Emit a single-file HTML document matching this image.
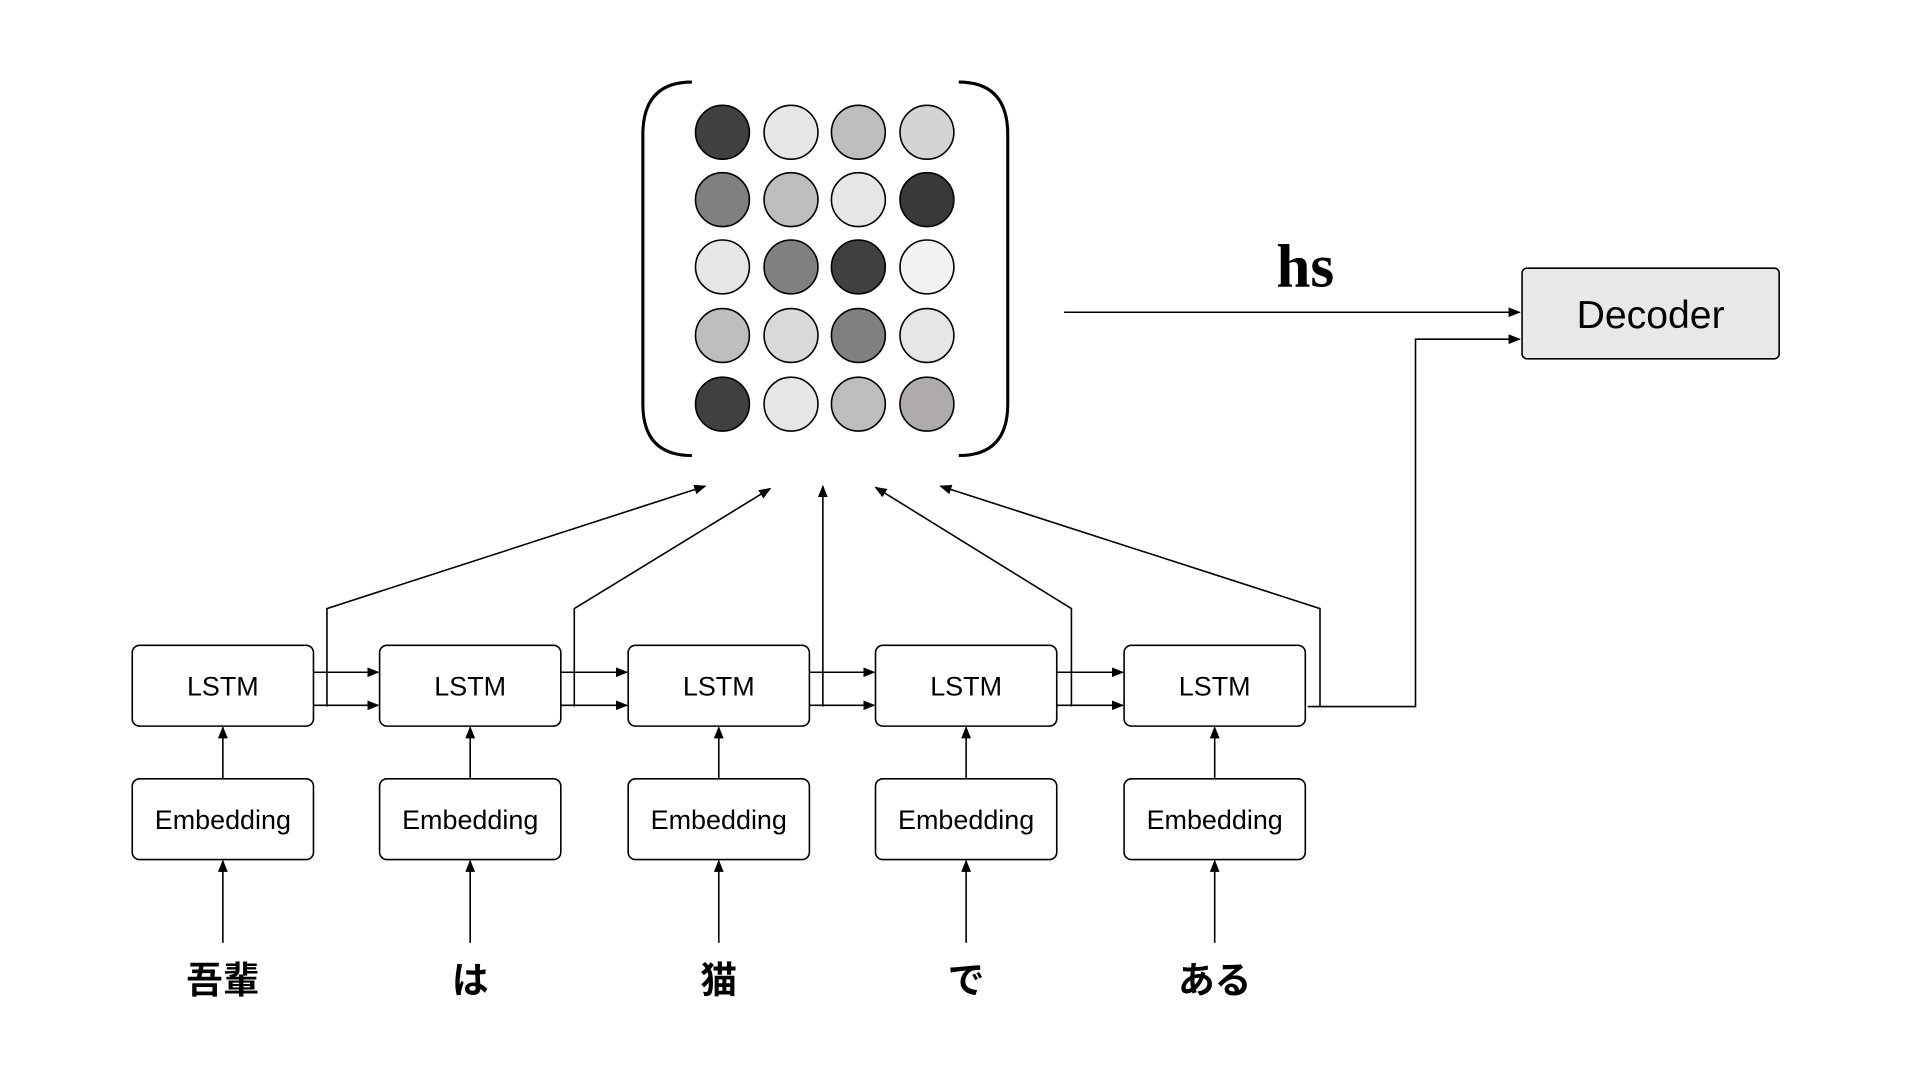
<!DOCTYPE html>
<html><head><meta charset="utf-8"><style>html,body{margin:0;padding:0;background:#fff}svg{display:block}</style></head>
<body>
<svg width="1920" height="1080" viewBox="0 0 1568 882" preserveAspectRatio="none" xmlns="http://www.w3.org/2000/svg">
<defs><marker id="a" markerWidth="10" markerHeight="8" refX="9" refY="4" orient="auto" markerUnits="userSpaceOnUse"><path d="M0,0 L10,4 L0,8 z" fill="#000"/></marker></defs>
<g stroke="#000" stroke-width="1.3">
<circle cx="590" cy="108" r="22" fill="#404040"/><circle cx="646" cy="108" r="22" fill="#e6e6e6"/><circle cx="701" cy="108" r="22" fill="#bdbdbd"/><circle cx="757" cy="108" r="22" fill="#d4d4d4"/>
<circle cx="590" cy="163" r="22" fill="#808080"/><circle cx="646" cy="163" r="22" fill="#bdbdbd"/><circle cx="701" cy="163" r="22" fill="#e6e6e6"/><circle cx="757" cy="163" r="22" fill="#3a3a3a"/>
<circle cx="590" cy="218" r="22" fill="#e6e6e6"/><circle cx="646" cy="218" r="22" fill="#808080"/><circle cx="701" cy="218" r="22" fill="#404040"/><circle cx="757" cy="218" r="22" fill="#f2f2f2"/>
<circle cx="590" cy="274" r="22" fill="#bdbdbd"/><circle cx="646" cy="274" r="22" fill="#d9d9d9"/><circle cx="701" cy="274" r="22" fill="#808080"/><circle cx="757" cy="274" r="22" fill="#e6e6e6"/>
<circle cx="590" cy="330" r="22" fill="#404040"/><circle cx="646" cy="330" r="22" fill="#e6e6e6"/><circle cx="701" cy="330" r="22" fill="#bdbdbd"/><circle cx="757" cy="330" r="22" fill="#b0abab"/>
</g>
<g fill="none" stroke="#000" stroke-width="2.5">
<path d="M565,67 Q525,67 525,110 L525,330 Q525,372 565,372"/>
<path d="M783,67 Q823,67 823,110 L823,330 Q823,372 783,372"/>
</g>
<text x="1066" y="234" text-anchor="middle" font-family="Liberation Serif,serif" font-weight="bold" font-size="50">hs</text>
<g stroke="#000" stroke-width="1.3" fill="none">
<line x1="869" y1="255" x2="1241" y2="255" marker-end="url(#a)"/>
<polyline points="1068,577 1156,577 1156,277 1241,277" marker-end="url(#a)"/>
<rect x="1243" y="219" width="210" height="74" rx="4" fill="#e8e8e8"/>
</g>
<text x="1348" y="268" text-anchor="middle" font-family="Liberation Sans,sans-serif" font-size="32">Decoder</text>
<g stroke="#000" stroke-width="1.3" fill="none">
<rect x="108" y="527" width="148" height="66" rx="6"/><rect x="310" y="527" width="148" height="66" rx="6"/><rect x="513" y="527" width="148" height="66" rx="6"/><rect x="715" y="527" width="148" height="66" rx="6"/><rect x="918" y="527" width="148" height="66" rx="6"/>
<rect x="108" y="636" width="148" height="66" rx="6"/><rect x="310" y="636" width="148" height="66" rx="6"/><rect x="513" y="636" width="148" height="66" rx="6"/><rect x="715" y="636" width="148" height="66" rx="6"/><rect x="918" y="636" width="148" height="66" rx="6"/>
<line x1="256" y1="549" x2="309" y2="549" marker-end="url(#a)"/><line x1="256" y1="576" x2="309" y2="576" marker-end="url(#a)"/>
<line x1="458" y1="549" x2="512" y2="549" marker-end="url(#a)"/><line x1="458" y1="576" x2="512" y2="576" marker-end="url(#a)"/>
<line x1="661" y1="549" x2="714" y2="549" marker-end="url(#a)"/><line x1="661" y1="576" x2="714" y2="576" marker-end="url(#a)"/>
<line x1="863" y1="549" x2="917" y2="549" marker-end="url(#a)"/><line x1="863" y1="576" x2="917" y2="576" marker-end="url(#a)"/>
<polyline points="267,577 267,497 576,397" marker-end="url(#a)"/>
<polyline points="469,577 469,497 629,399" marker-end="url(#a)"/>
<line x1="672" y1="577" x2="672" y2="397" marker-end="url(#a)"/>
<polyline points="875,577 875,497 715,398" marker-end="url(#a)"/>
<polyline points="1078,577 1078,497 768,397" marker-end="url(#a)"/>
<line x1="182" y1="636" x2="182" y2="594" marker-end="url(#a)"/><line x1="384" y1="636" x2="384" y2="594" marker-end="url(#a)"/><line x1="587" y1="636" x2="587" y2="594" marker-end="url(#a)"/><line x1="789" y1="636" x2="789" y2="594" marker-end="url(#a)"/><line x1="992" y1="636" x2="992" y2="594" marker-end="url(#a)"/>
<line x1="182" y1="770" x2="182" y2="703" marker-end="url(#a)"/><line x1="384" y1="770" x2="384" y2="703" marker-end="url(#a)"/><line x1="587" y1="770" x2="587" y2="703" marker-end="url(#a)"/><line x1="789" y1="770" x2="789" y2="703" marker-end="url(#a)"/><line x1="992" y1="770" x2="992" y2="703" marker-end="url(#a)"/>
</g>
<g font-family="Liberation Sans,sans-serif" font-size="22" text-anchor="middle">
<text x="182" y="568">LSTM</text><text x="384" y="568">LSTM</text><text x="587" y="568">LSTM</text><text x="789" y="568">LSTM</text><text x="992" y="568">LSTM</text>
<text x="182" y="677">Embedding</text><text x="384" y="677">Embedding</text><text x="587" y="677">Embedding</text><text x="789" y="677">Embedding</text><text x="992" y="677">Embedding</text>
</g>
<g font-family="Liberation Sans,Noto Sans CJK JP,sans-serif" font-size="30" font-weight="bold" text-anchor="middle">
<text x="182" y="811">吾輩</text><text x="384" y="811">は</text><text x="587" y="811">猫</text><text x="789" y="811">で</text><text x="992" y="811">ある</text>
</g>
</svg>
</body></html>
